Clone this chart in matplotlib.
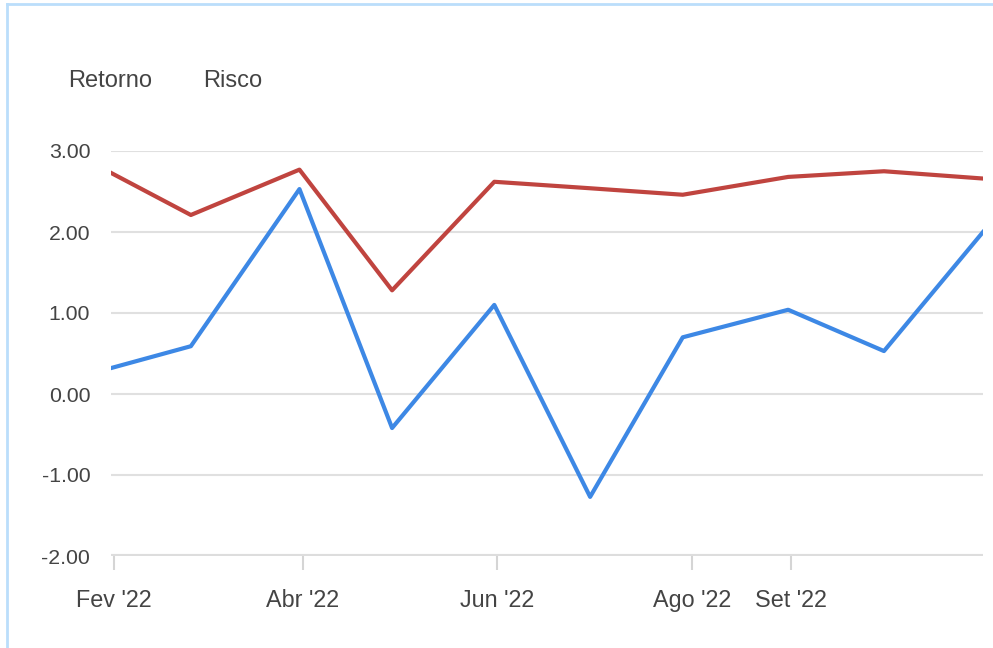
import matplotlib
matplotlib.use('Agg')
import matplotlib.pyplot as plt
from matplotlib.lines import Line2D
import pandas as pd

plt.rcParams['font.family'] = ['Liberation Sans', 'DejaVu Sans']

# Fim de cada mês (último pregão)
datas = pd.to_datetime(['2022-01-31', '2022-02-25', '2022-03-31', '2022-04-29', '2022-05-31',
                        '2022-06-30', '2022-07-29', '2022-08-31', '2022-09-30', '2022-10-31'])
retorno = [0.32, 0.59, 2.53, -0.42, 1.10, -1.27, 0.70, 1.04, 0.53, 2.00]
risco = [2.73, 2.21, 2.77, 1.28, 2.62, 2.54, 2.46, 2.68, 2.75, 2.66]

tick_datas = pd.to_datetime(['2022-02-01', '2022-04-01', '2022-06-01', '2022-08-01', '2022-09-01'])
tick_labels = ["Fev '22", "Abr '22", "Jun '22", "Ago '22", "Set '22"]
y_ticks = [-2, -1, 0, 1, 2, 3]

cor_texto = '#444444'
cor_grade = '#e0e0e0'

fig = plt.figure(figsize=(9.93, 6.48), dpi=100)
ax = fig.add_axes([111 / 993, 1 - 556 / 648, 872 / 993, 405 / 648])

ax.plot(datas, retorno, color='#3d88e5', lw=3, label='Retorno', zorder=3)
ax.plot(datas, risco, color='#c0443f', lw=3, label='Risco', zorder=3)

ax.set_xlim(datas[0], datas[-1])
ax.set_ylim(-2, 3)

# linhas de grade
for v in y_ticks[1:]:
    ax.axhline(v, color=cor_grade, lw=1.5, zorder=1)
ax.axhline(-2, color='#dddddd', lw=3, zorder=2)

ax.set_yticks(y_ticks)
ax.set_yticklabels([f'{v:.2f}' for v in y_ticks])
ax.set_xticks(tick_datas)
ax.set_xticklabels(tick_labels)

ax.tick_params(axis='y', length=0, pad=15, labelsize=15.3, labelcolor=cor_texto)
ax.tick_params(axis='x', length=10, width=1.5, color='#d5d5d5', pad=14,
               labelsize=16.8, labelcolor=cor_texto, direction='out')
for s in ax.spines.values():
    s.set_visible(False)

# legenda só com texto
fig.text(68 / 993, 1 - 81 / 648, 'Retorno', fontsize=17, color=cor_texto, va='center')
fig.text(203 / 993, 1 - 81 / 648, 'Risco', fontsize=17, color=cor_texto, va='center')

# borda azul clara do painel
fig.add_artist(Line2D([6.5 / 993, 6.5 / 993], [0, 1 - 3.5 / 648], transform=fig.transFigure,
                      color='#bbdefb', lw=2))
fig.add_artist(Line2D([6.5 / 993, 1], [1 - 3.5 / 648, 1 - 3.5 / 648], transform=fig.transFigure,
                      color='#bbdefb', lw=2))

fig.savefig('out.png', dpi=100)
